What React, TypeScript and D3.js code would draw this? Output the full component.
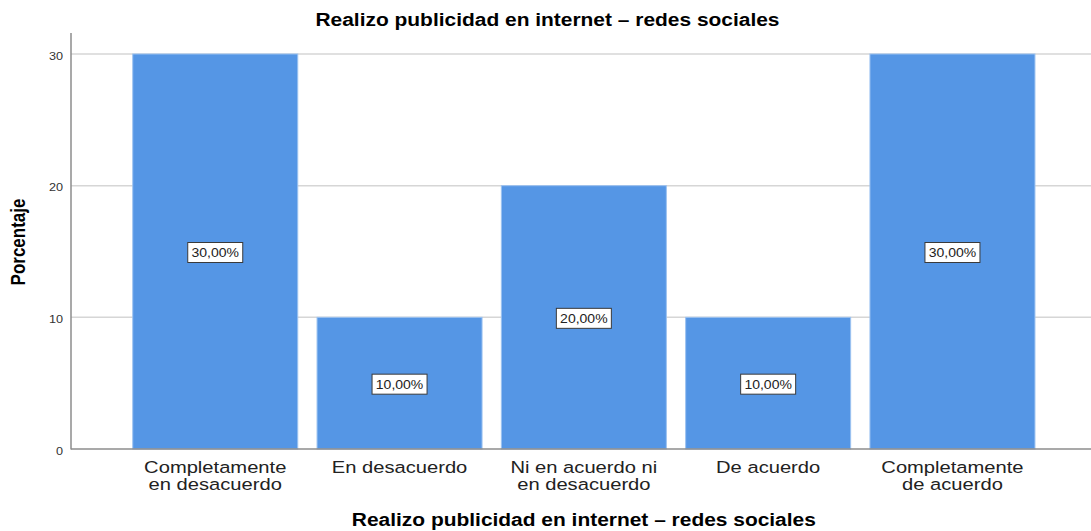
import React from "react";
import * as d3 from "d3";

const categoryLines: string[][] = [
  ["Completamente", "en desacuerdo"],
  ["En desacuerdo"],
  ["Ni en acuerdo ni", "en desacuerdo"],
  ["De acuerdo"],
  ["Completamente", "de acuerdo"],
];
const categories = categoryLines.map((l) => l.join(" "));
const values = [30, 10, 20, 10, 30];
const valueLabels = ["30,00%", "10,00%", "20,00%", "10,00%", "30,00%"];
const yTicks = [0, 10, 20, 30];
const title = "Realizo publicidad en internet – redes sociales";
const yTitle = "Porcentaje";

const W = 1091;
const H = 531;
const SX = 1.2; // horizontal stretch of the original rendering
const FONT = "'Liberation Sans', Arial, Helvetica, sans-serif";

export default function App() {
  const x = d3
    .scaleBand<string>()
    .domain(categories)
    .range([71, 1096.7])
    .paddingInner(0.1047)
    .paddingOuter(0.335);
  const y = d3.scaleLinear().domain([0, 30]).range([449, 54]);

  const barColor = "#5596e5";

  return (
    <svg
      width={W}
      height={H}
      style={{ position: "absolute", left: 0, top: 0, background: "#fff" }}
      fontFamily={FONT}
    >
      <rect x={0} y={0} width={W} height={H} fill="#fff" />
      {/* gridlines */}
      {yTicks
        .filter((t) => t !== 0)
        .map((t) => (
          <line
            key={"g" + t}
            x1={71}
            x2={W}
            y1={y(t)}
            y2={y(t)}
            stroke="#d6d6d6"
            strokeWidth={1.5}
          />
        ))}
      {/* bars */}
      {categories.map((c, i) => (
        <rect
          key={"b" + i}
          x={x(c)!}
          y={y(values[i])}
          width={x.bandwidth()}
          height={y(0) - y(values[i])}
          fill={barColor}
          stroke="#9cc2f0"
          strokeWidth={1}
        />
      ))}
      {/* axes */}
      <line x1={71} x2={71} y1={33} y2={449.5} stroke="#8c8c8c" strokeWidth={1.5} />
      <line x1={71} x2={W} y1={449} y2={449} stroke="#8c8c8c" strokeWidth={1.5} />
      {/* y tick labels */}
      {yTicks.map((t) => (
        <g key={"t" + t} transform={`translate(63,${y(t) + 5.5}) scale(1.1,1)`}>
          <text textAnchor="end" fontSize={11.5} fill="#333">
            {t}
          </text>
        </g>
      ))}
      {/* bar value labels */}
      {categories.map((c, i) => {
        const cx = x(c)! + x.bandwidth() / 2;
        const cy = y(values[i] / 2) + 1;
        return (
          <g key={"l" + i}>
            <rect
              x={cx - 27.5}
              y={cy - 10}
              width={55}
              height={20}
              fill="#fff"
              stroke="#3a3a3a"
              strokeWidth={1}
            />
            <g transform={`translate(${cx},${cy + 4.5}) scale(1.12,1)`}>
              <text textAnchor="middle" fontSize={12.5} fill="#222">
                {valueLabels[i]}
              </text>
            </g>
          </g>
        );
      })}
      {/* category labels */}
      {categories.map((c, i) => {
        const cx = x(c)! + x.bandwidth() / 2;
        return categoryLines[i].map((line, j) => (
          <g key={"c" + i + "_" + j} transform={`translate(${cx},${472.5 + j * 17.5}) scale(${SX},1)`}>
            <text textAnchor="middle" fontSize={16.8} fill="#222">
              {line}
            </text>
          </g>
        ));
      })}
      {/* title */}
      <g transform={`translate(547.5,26) scale(1.19,1)`}>
        <text textAnchor="middle" fontSize={17.6} fontWeight="bold" fill="#000">
          {title}
        </text>
      </g>
      {/* x axis title */}
      <g transform={`translate(${(71 + 1096.7) / 2},525.5) scale(1.19,1)`}>
        <text textAnchor="middle" fontSize={17.6} fontWeight="bold" fill="#000">
          {title}
        </text>
      </g>
      {/* y axis title */}
      <g transform={`translate(25,242) scale(1.17,1) rotate(-90)`}>
        <text textAnchor="middle" fontSize={17} fontWeight="bold" fill="#000">
          {yTitle}
        </text>
      </g>
    </svg>
  );
}
